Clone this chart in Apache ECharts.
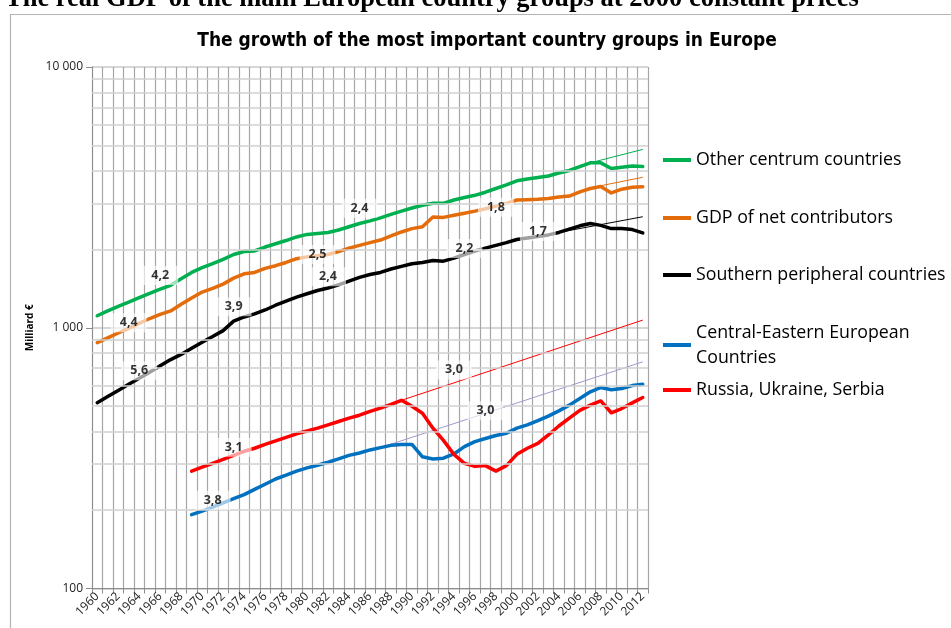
<!DOCTYPE html>
<html><head><meta charset="utf-8">
<script src="https://cdn.jsdelivr.net/npm/echarts@6/dist/echarts.min.js"></script>
<style>html,body{margin:0;padding:0;background:#fff;}#c{width:951px;height:628px;}</style>
</head><body><div id="c"></div>
<script>
// ---- categories ----
const years = ['1960','1961','1962','1963','1964','1965','1966','1967','1968','1969',
  '1970','1971','1972','1973','1974','1975','1976','1977','1978','1979',
  '1980','1981','1982','1983','1984','1985','1986','1987','1988','1989',
  '1990','1991','1992','1993','1994','1995','1996','1997','1998','1999',
  '2000','2001','2002','2003','2004','2005','2006','2007','2008','2009',
  '2010','2011','2012'];

// ---- series values (billion EUR, 2000 prices) ----
const otherCentrum = [1112,1160,1208,1255,1305,1355,1405,1455,1540,1630,
  1700,1760,1830,1910,1960,1970,2040,2100,2160,2230,
  2280,2300,2320,2370,2440,2510,2570,2640,2720,2800,
  2880,2950,3000,3000,3090,3160,3220,3310,3420,3530,
  3660,3720,3770,3820,3920,4010,4150,4290,4290,4080,
  4130,4170,4150];
const netContributors = [877,915,955,995,1040,1085,1125,1160,1230,1300,
  1370,1415,1470,1550,1610,1630,1690,1730,1780,1840,
  1870,1890,1910,1960,2020,2070,2120,2170,2250,2330,
  2400,2440,2660,2650,2700,2750,2800,2860,2930,3000,
  3090,3100,3110,3130,3170,3200,3320,3420,3480,3290,
  3400,3460,3470];
const southernPeriphery = [516,545,575,607,640,675,715,755,790,835,
  880,925,975,1060,1100,1130,1170,1220,1265,1310,
  1350,1390,1420,1460,1510,1560,1600,1630,1680,1720,
  1760,1780,1810,1800,1850,1910,1970,2020,2070,2120,
  2180,2210,2240,2270,2320,2390,2460,2510,2470,2400,
  2400,2380,2310];
const centralEastern = [null,null,null,null,null,null,null,null,null,192,
  198,205,213,221,229,240,251,263,272,282,
  290,297,305,314,324,331,340,347,354,357,
  357,320,314,316,328,350,366,376,386,394,
  412,424,440,458,480,505,535,568,590,578,
  585,600,607];
const russiaUkraineSerbia = [null,null,null,null,null,null,null,null,null,282,
  292,302,313,324,336,345,357,368,380,392,
  402,412,424,437,450,462,478,492,508,527,
  500,470,412,370,327,302,294,296,282,296,
  327,345,360,388,420,450,482,505,524,472,
  490,515,540];

// ---- trend line end points ----
const otherCentrumTrend = [['2006',4190],['2012',4830]];
const netContributorsTrend = [['2007',3440],['2012',3775]];
const southernTrend = [['2004',2320],['2012',2665]];
const centralEasternTrend = [['1987',347],['2012',740]];
const russiaTrend = [['1989',527],['2012',1070]];

// ---- growth rate labels: [year, value, text] ----
const rateLabels = [
  ['1966',1585,'4,2'],['1963',1045,'4,4'],['1964',684,'5,6'],['1973',1205,'3,9'],
  ['1981',1910,'2,5'],['1982',1570,'2,4'],['1985',2870,'2,4'],['1995',2013,'2,2'],
  ['1998',2896,'1,8'],['2002',2339,'1,7'],['1994',689,'3,0'],['1997',480,'3,0'],
  ['1973',348,'3,1'],['1971',218,'3,8']];

// ---- axis ----
const yTicks = [100,1000,10000];
const minorGrid = [200,300,400,500,600,700,800,900,2000,3000,4000,5000,6000,7000,8000,9000];

const names = ['Other centrum countries','GDP of net contributors','Southern peripheral countries',
  'Central-Eastern European Countries','Russia, Ukraine, Serbia'];
const colors = ['#00B050','#E46C0A','#000000','#0070C0','#FF0000'];
const values = [otherCentrum, netContributors, southernPeriphery, centralEastern, russiaUkraineSerbia];
const trends = [otherCentrumTrend, netContributorsTrend, southernTrend, centralEasternTrend, russiaTrend];
const trendColors = ['#00B050','#E46C0A','#000000','#A497CC','#FF0000'];

const FONT = 'Open Sans';
const chart = echarts.init(document.getElementById('c'), null, {renderer:'canvas'});

const series = [];
series.push({type:'line', name:'grid', data:[], z:1, silent:true,
  markLine:{silent:true, symbol:'none', animation:false, label:{show:false},
    lineStyle:{color:'#d0d0d0', width:1.5, type:'solid'},
    data: minorGrid.map(v => ({yAxis:v}))}});
trends.forEach((t,i) => series.push({type:'line', name:'trend'+i, data:t, z:2, symbol:'none',
  silent:true, lineStyle:{color:trendColors[i], width:1}}));
values.forEach((v,i) => series.push({type:'line', name:names[i], data:v, z:3, symbol:'none',
  color:colors[i], lineStyle:{color:colors[i], width:3.5, cap:'round', join:'round'}}));
series.push({type:'scatter', name:'rates', z:6, silent:true, symbolSize:1,
  itemStyle:{color:'rgba(0,0,0,0)'},
  data: rateLabels.map(r => ({value:[r[0], r[1]], label:r[2]})),
  label:{show:true, position:'inside', formatter: p => p.data.label,
    fontFamily:FONT, fontWeight:'bold', fontSize:12.5, color:'#000',
    backgroundColor:'rgba(255,255,255,0.78)', padding:[3,9,3,9]}});

const legendTops = [145, 203, 260, 302.5, 375];
const legends = names.map((n,i) => ({
  left: 658, top: legendTops[i], orient:'vertical', selectedMode:false,
  icon:'rect', itemWidth: 28, itemHeight: 4, itemGap: 0,
  data: [ i === 3 ? {name:n, textStyle:{padding:[25,0,0,0]}} : n ],
  formatter: s => s === 'Central-Eastern European Countries' ? 'Central-Eastern European\nCountries' : s,
  textStyle:{fontFamily:FONT, fontSize:17.8, color:'#000', lineHeight: i === 3 ? 25 : 20}
}));

chart.setOption({
  animation:false,
  backgroundColor:'#fff',
  title:[
    {text:'The real GDP of the main European country groups at 2000 constant prices',
      left:0, top:-19, textStyle:{fontFamily:'Liberation Serif', fontWeight:'bold', fontSize:26.5, color:'#000'}},
    {text:'The growth of the most important country groups in Europe',
      left:482, top:27, textAlign:'center',
      textStyle:{fontFamily:'DejaVu Sans Condensed', fontWeight:'bold', fontSize:19, color:'#000'}}
  ],
  graphic:[{type:'rect', left:8, top:12, shape:{x:0,y:0,width:1000,height:700},
    style:{fill:null, stroke:'#b4b4b4', lineWidth:1.2}, silent:true, z:-1}],
  legend: legends,
  grid:{left:92, top:67, width:556, height:521.5},
  xAxis:{type:'category', data:years, boundaryGap:true,
    axisLine:{show:true, lineStyle:{color:'#8c8c8c', width:1}},
    axisTick:{show:true, interval:0, length:5, lineStyle:{color:'#8c8c8c'}},
    axisLabel:{interval:1, rotate:45, fontFamily:FONT, fontSize:12, color:'#222', margin:6},
    splitLine:{show:true, interval:0, lineStyle:{color:'#a6a6a6', width:1.2}}},
  yAxis:{type:'log', logBase:10, min:100, max:10000,
    name:'Milliard €', nameLocation:'middle', nameGap:48, nameRotate:90,
    nameTextStyle:{fontFamily:FONT, fontWeight:'bold', fontSize:10, color:'#000'},
    axisLine:{show:true, lineStyle:{color:'#8c8c8c', width:1}},
    axisTick:{show:true, length:6, lineStyle:{color:'#8c8c8c'}},
    axisLabel:{fontFamily:FONT, fontSize:12, color:'#222', margin:9,
      formatter: v => yTicks.indexOf(Math.round(v)) >= 0 ? String(Math.round(v)).replace(/\B(?=(\d{3})+(?!\d))/g,' ') : ''},
    splitLine:{show:true, lineStyle:{color:'#c8c8c8', width:1.5}}},
  series: series
});
</script></body></html>
